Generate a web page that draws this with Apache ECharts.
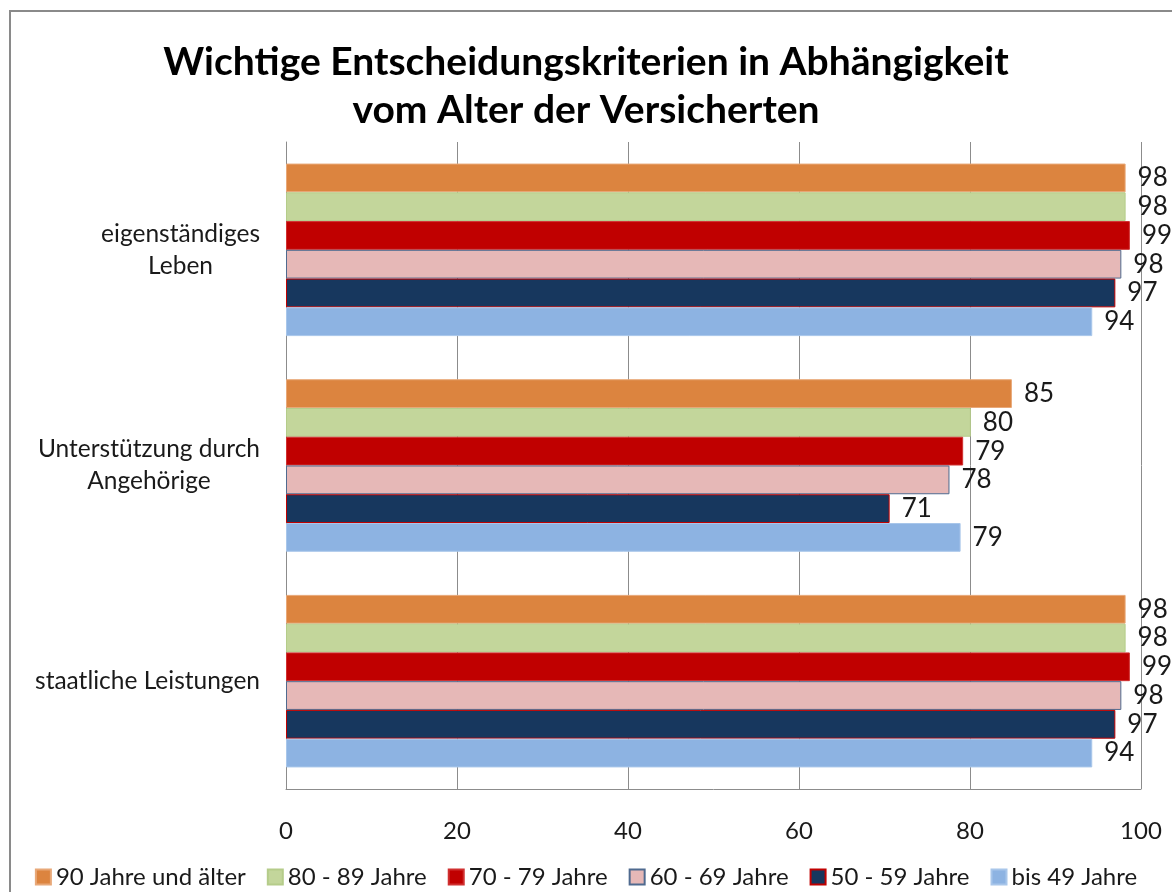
<!DOCTYPE html>
<html>
<head>
<meta charset="utf-8">
<script src="https://cdn.jsdelivr.net/npm/echarts@6/dist/echarts.min.js"></script>
<style>
html,body{margin:0;padding:0;background:#fff;}
#chart{width:1172px;height:892px;}
</style>
</head>
<body>
<div id="chart"></div>
<script>
const categories = ['eigenständiges\nLeben', 'Unterstützung durch\nAngehörige', 'staatliche Leistungen'];
const seriesNames = ['90 Jahre und älter', '80 - 89 Jahre', '70 - 79 Jahre', '60 - 69 Jahre', '50 - 59 Jahre', 'bis 49 Jahre'];
const v90 = [98.2, 84.9, 98.2];
const v80 = [98.2, 80.1, 98.2];
const v70 = [98.7, 79.2, 98.7];
const v60 = [97.7, 77.6, 97.7];
const v50 = [97.0, 70.6, 97.0];
const v49 = [94.3, 78.9, 94.3];
const xTicks = [0, 20, 40, 60, 80, 100];

const values = [v90, v80, v70, v60, v50, v49];
const colors = ['#DC843F', '#C3D69B', '#C00000', '#E6B8B7', '#17375E', '#8DB3E2'];
const borders = ['#E8A878', '#B5CC8A', '#D03030', '#4F6A8F', '#C00000', '#A8C6EA'];

const FONT = 'Lato, "Open Sans", sans-serif';
const chart = echarts.init(document.getElementById('chart'));

const series = seriesNames.map((name, i) => ({
  name: name,
  type: 'bar',
  data: values[i],
  barGap: '0%',
  barCategoryGap: '20%',
  itemStyle: { color: colors[i], borderColor: borders[i], borderWidth: 1 },
  label: {
    show: true,
    position: 'right',
    distance: 12,
    fontFamily: FONT,
    fontSize: 26,
    color: '#1a1a1a',
    formatter: p => Math.round(p.value)
  },
  emphasis: { disabled: true }
}));

chart.setOption({
  animation: false,
  backgroundColor: '#fff',
  textStyle: { fontFamily: FONT },
  title: {
    text: 'Wichtige Entscheidungskriterien in Abhängigkeit\nvom Alter der Versicherten',
    left: 'center',
    top: 33,
    textStyle: { fontFamily: FONT, fontSize: 39, fontWeight: 'bold', color: '#000', lineHeight: 48 }
  },
  graphic: [{
    type: 'rect',
    shape: { x: 10, y: 11, width: 1300, height: 1000 },
    style: { fill: 'none', stroke: '#8a8a8a', lineWidth: 2 },
    silent: true
  }],
  legend: {
    bottom: -2,
    left: 'center',
    icon: 'rect',
    itemWidth: 15,
    itemHeight: 15,
    itemGap: 21,
    textStyle: { fontFamily: FONT, fontSize: 24, color: '#1a1a1a' },
    data: seriesNames
  },
  grid: { left: 286, right: 31, top: 142, bottom: 103, containLabel: false },
  xAxis: {
    type: 'value',
    min: 0,
    max: 100,
    interval: 20,
    axisLine: { show: true, lineStyle: { color: '#8c8c8c', width: 1 } },
    axisTick: { show: false },
    axisLabel: {
      margin: 30,
      fontFamily: FONT,
      fontSize: 24,
      color: '#1a1a1a',
      formatter: v => xTicks.indexOf(v) >= 0 ? String(v) : ''
    },
    splitLine: { show: true, lineStyle: { color: '#8c8c8c', width: 1 } }
  },
  yAxis: {
    type: 'category',
    inverse: true,
    data: categories,
    axisLine: { show: true, lineStyle: { color: '#8c8c8c', width: 1 } },
    axisTick: { show: false },
    axisLabel: {
      margin: 26,
      fontFamily: FONT,
      fontSize: 24.5,
      color: '#1a1a1a',
      lineHeight: 32,
      formatter: v => v.split('\n').map(s => '{c|' + s + '}').join('\n'),
      rich: { c: { align: 'center', fontFamily: FONT, fontSize: 24.5, lineHeight: 32, color: '#1a1a1a' } }
    }
  },
  series: series
});
</script>
</body>
</html>
